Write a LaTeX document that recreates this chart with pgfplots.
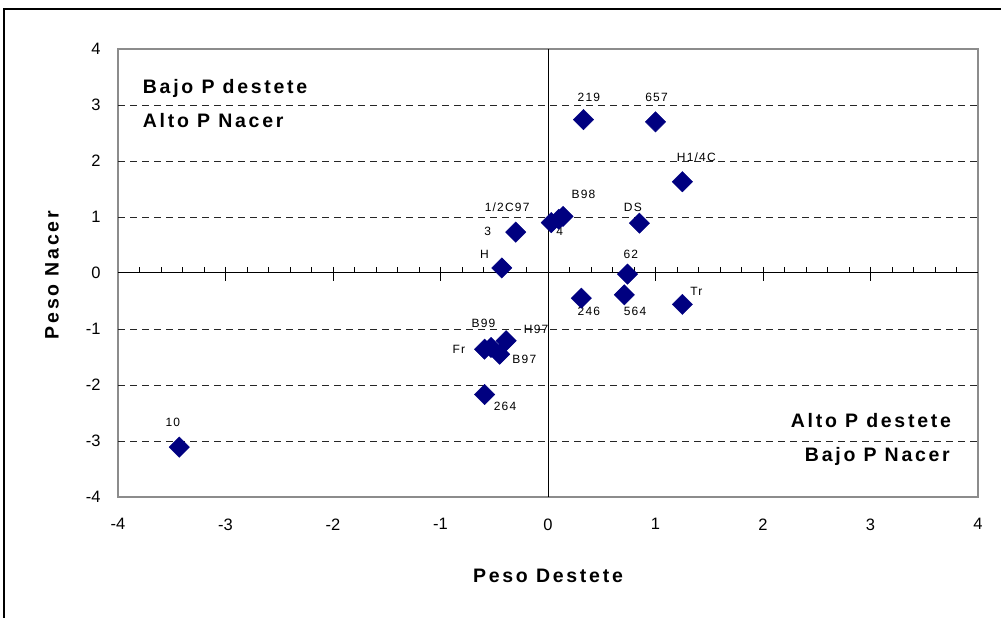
\documentclass[border=0pt]{standalone}
\usepackage{pgfplots}
\pgfplotsset{compat=1.18}
\usepackage{fontspec}
\setmainfont{Liberation Sans}
\newfontfamily\wide[LetterSpace=14]{Liberation Sans}
\newfontfamily\lbl[LetterSpace=10]{Liberation Sans}
\definecolor{navy}{RGB}{0,0,128}
\definecolor{framegray}{RGB}{140,140,140}

\begin{document}
\begin{tikzpicture}[x=1pt,y=1pt]
\path[use as bounding box] (0,0) rectangle (1001,618);
% outer chart frame (only left and top visible)
\draw[line width=1.2pt] (4,-5) -- (4,609) -- (1010,609);

\begin{axis}[
  at={(118pt,121pt)}, anchor=south west,
  width=860pt, height=448pt, scale only axis,
  xmin=-4, xmax=4, ymin=-4, ymax=4,
  xtick={-4,...,4}, ytick={-4,...,4},
  major tick length=0pt, minor tick length=0pt,
  axis line style={framegray, line width=1.5pt},
  tick label style={font=\fontsize{16.5}{18}\selectfont},
  /pgf/number format/assume math mode=true,
  xticklabel style={yshift=-18pt},
  yticklabel style={xshift=-14pt},
  extra y ticks={-3,-2,-1,1,2,3},
  extra y tick labels={},
  extra y tick style={grid=major},
  major grid style={dash pattern=on 7pt off 5pt, black!85, line width=0.8pt},
  clip=false,
]

% zero axes with ticks
\draw[black, line width=1pt] (axis cs:0,-4) -- (axis cs:0,4);
\draw[black, line width=1pt] (axis cs:-4,0) -- (axis cs:4,0);
\pgfplotsinvokeforeach{-3.8,-3.6,-3.4,-3.2,-2.8,-2.6,-2.4,-2.2,-1.8,-1.6,-1.4,-1.2,-0.8,-0.6,-0.4,-0.2,0.2,0.4,0.6,0.8,1.2,1.4,1.6,1.8,2.2,2.4,2.6,2.8,3.2,3.4,3.6,3.8}{
  \draw[black, line width=0.9pt] (axis cs:#1,0) -- ([yshift=6pt]axis cs:#1,0);
}
\pgfplotsinvokeforeach{-3,-2,-1,1,2,3}{
  \draw[black, line width=1pt] ([yshift=6pt]axis cs:#1,0) -- ([yshift=-8pt]axis cs:#1,0);
}

% data points
\addplot[only marks, mark=square*, mark size=7.2pt,
  mark options={rotate=45, fill=navy, draw=navy}] table {
x y
-3.43 -3.11
0.33 2.74
1.00 2.70
1.25 1.63
0.14 1.01
0.03 0.90
0.10 0.96
0.85 0.89
-0.30 0.73
-0.43 0.09
0.74 -0.02
0.31 -0.45
0.71 -0.39
1.25 -0.56
-0.53 -1.33
-0.39 -1.21
-0.59 -1.36
-0.45 -1.45
-0.59 -2.17
};

% point labels
\begin{scope}[every node/.style={font=\lbl\fontsize{12}{13}\selectfont, inner sep=0pt}]
\node at (axis cs:-3.49,-2.67) {10};
\node at (axis cs:0.38,3.14) {219};
\node at (axis cs:1.01,3.14) {657};
\node at (axis cs:1.38,2.07) {H1/4C};
\node at (axis cs:0.33,1.41) {B98};
\node at (axis cs:-0.38,1.18) {1/2C97};
\node at (axis cs:0.11,0.74) {4};
\node at (axis cs:0.79,1.18) {DS};
\node at (axis cs:-0.56,0.74) {3};
\node at (axis cs:-0.59,0.33) {H};
\node at (axis cs:0.77,0.33) {62};
\node at (axis cs:0.38,-0.69) {246};
\node at (axis cs:0.81,-0.69) {564};
\node at (axis cs:1.38,-0.33) {Tr};
\node at (axis cs:-0.60,-0.90) {B99};
\node at (axis cs:-0.11,-1.00) {H97};
\node at (axis cs:-0.83,-1.36) {Fr};
\node at (axis cs:-0.22,-1.55) {B97};
\node at (axis cs:-0.40,-2.39) {264};
\end{scope}

% quadrant notes
\begin{scope}[every node/.style={font=\wide\bfseries\fontsize{19.5}{22}\selectfont, inner sep=0pt}]
\node[anchor=west] at (axis cs:-3.77,3.30) {Bajo P destete};
\node[anchor=west] at (axis cs:-3.77,2.73) {Alto P Nacer};
\node[anchor=east] at (axis cs:3.75,-2.64) {Alto P destete};
\node[anchor=east] at (axis cs:3.74,-3.27) {Bajo P Nacer};
\end{scope}
\end{axis}

% axis titles
\node[font=\wide\bfseries\fontsize{19.5}{22}\selectfont] at (548,42) {Peso Destete};
\node[font=\wide\bfseries\fontsize{19.5}{22}\selectfont, rotate=90] at (52,343) {Peso Nacer};
\end{tikzpicture}
\end{document}
